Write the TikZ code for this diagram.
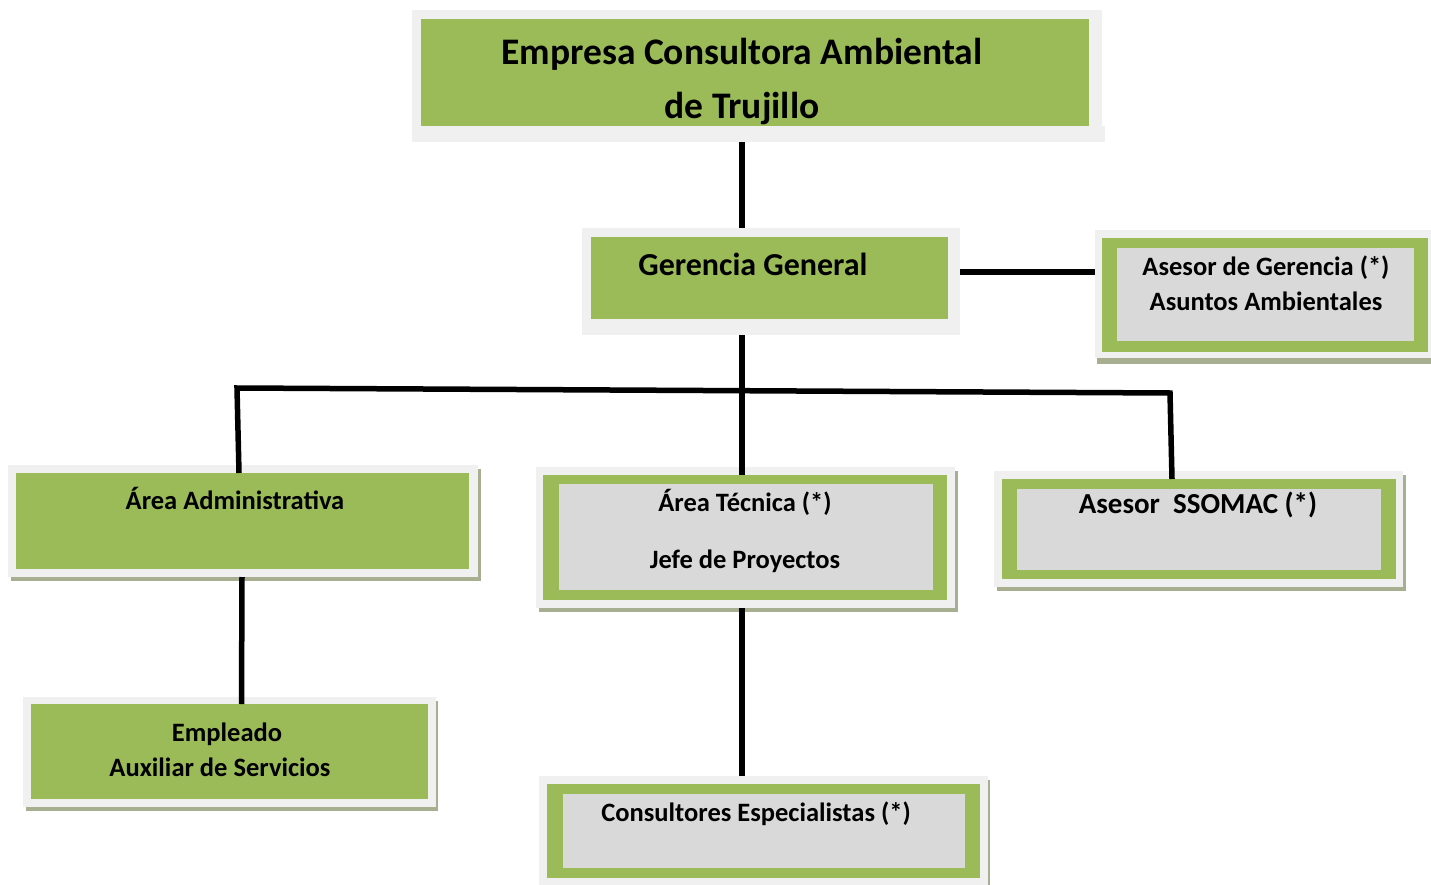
\documentclass[tikz,border=0pt]{standalone}
\usepackage{fontspec}
\setmainfont{Carlito}
\usetikzlibrary{calc}
\definecolor{ogreen}{HTML}{9BBB59}
\definecolor{oframe}{HTML}{F0F0F0}
\definecolor{oinner}{HTML}{D9D9D9}
\definecolor{oshadow}{HTML}{A8AF90}
\begin{document}
\begin{tikzpicture}[x=1pt,y=-1pt,
  frame/.style={fill=oframe, inner sep=0pt, outer sep=0pt, anchor=north west, rectangle},
  conn/.style={line width=5.5pt, black},
  lbl/.style={font=\bfseries, inner sep=0pt, anchor=base},
  big/.style={font=\bfseries\fontsize{37.5}{42}\selectfont},
  mid/.style={font=\bfseries\fontsize{32}{36}\selectfont},
  sml/.style={font=\bfseries\fontsize{26.5}{30}\selectfont}]
\useasboundingbox (0,0) rectangle (1431,885);
\fill[white] (0,0) rectangle (1431,885);

% shadows
\fill[oshadow] (1097,236) rectangle (1431,364);
\fill[oshadow] (11,469) rectangle (481,581);
\fill[oshadow] (539,471) rectangle (958,612);
\fill[oshadow] (997,475) rectangle (1406,591);
\fill[oshadow] (26,701) rectangle (438,811);
\fill[oshadow] (542,780) rectangle (990,885);

% title
\node[frame, minimum width=690pt, minimum height=132pt] (title) at (412,10) {};
\fill[oframe] (1090,126) rectangle (1105,142);
\fill[ogreen] (421,19) rectangle (1089,126);
\node[lbl, big] (t1) at (742,65) {Empresa Consultora Ambiental};
\node[lbl, big] (t2) at (742,119) {de Trujillo};

% gerencia
\node[frame, minimum width=378pt, minimum height=107pt] (ger) at (582,228) {};
\fill[ogreen] (591,237) rectangle (948,319);
\node[lbl, mid] (g1) at (753,275) {Gerencia General};

% asesor de gerencia
\node[frame, minimum width=336pt, minimum height=128pt] (asg) at (1095,230) {};
\fill[ogreen] (1102,238) rectangle (1428,352);
\fill[oinner] (1117,248) rectangle (1414,341);
\node[lbl, sml] (a1) at (1266,275) {Asesor de Gerencia (*)};
\node[lbl, sml] (a2) at (1266,310) {Asuntos Ambientales};

% area administrativa
\node[frame, minimum width=470pt, minimum height=112pt] (adm) at (8,465) {};
\fill[ogreen] (16,473) rectangle (469,569);
\node[lbl, sml] (ad1) at (235,509) {Área Administrativa};

% area tecnica
\node[frame, minimum width=419pt, minimum height=141pt] (tec) at (536,467) {};
\fill[ogreen] (543,475) rectangle (947,600);
\fill[oinner] (559,484) rectangle (933,590);
\node[lbl, sml] (te1) at (745,511) {Área Técnica (*)};
\node[lbl, sml] (te2) at (745,568) {Jefe de Proyectos};

% asesor ssomac
\node[frame, minimum width=409pt, minimum height=116pt] (sso) at (994,471) {};
\fill[ogreen] (1002,479) rectangle (1396,579);
\fill[oinner] (1017,489) rectangle (1381,570);
\node[lbl, font=\bfseries\fontsize{29}{33}\selectfont] (s1) at (1198,513) {Asesor\ \ SSOMAC (*)};

% empleado
\node[frame, minimum width=413pt, minimum height=110pt] (emp) at (23,697) {};
\fill[ogreen] (31,704) rectangle (428,799);
\node[lbl, sml] (e1) at (227,741) {Empleado};
\node[lbl, sml] (e2) at (220,776) {Auxiliar de Servicios};

% consultores
\node[frame, minimum width=449pt, minimum height=109pt] (con) at (539,776) {};
\fill[ogreen] (547,784) rectangle (980,878);
\fill[oinner] (563,794) rectangle (965,868);
\node[lbl, sml] (c1) at (756,821) {Consultores Especialistas (*)};

% connectors
\coordinate (spine) at (742,0);
\coordinate (busL) at (237,388);
\coordinate (busR) at (1170,393);
\draw[conn] (title.south -| spine) -- (ger.north -| spine);
\draw[conn] ($(ger.east)+(0,-9.5)$) -- ($(asg.west)+(0,-22)$);
\draw[conn] (ger.south -| spine) -- ($(tec.north -| spine)+(0,8)$);
\draw[conn, line join=miter] ($(adm.north -| busL)+(2,8)$) -- (busL) -- (busR) -- ($(sso.north -| busR)+(2,8)$);
\draw[conn] ($(adm.south)+(-1,0)$) -- ($(emp.north)+(12,7)$);
\draw[conn] (tec.south -| spine) -- (con.north -| spine);
\end{tikzpicture}
\end{document}
